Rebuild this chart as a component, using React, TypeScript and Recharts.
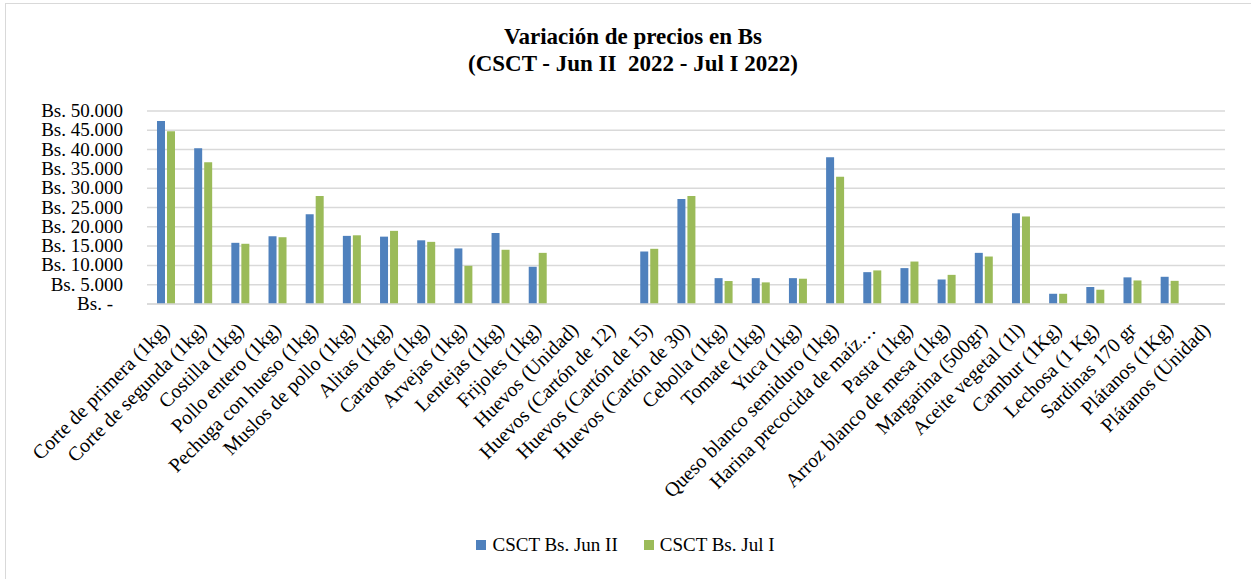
import React from "react";
import { BarChart, Bar, XAxis, YAxis, CartesianGrid, Legend } from "recharts";

const categories = [
  "Corte de primera (1kg)",
  "Corte de segunda (1kg)",
  "Costilla (1kg)",
  "Pollo entero (1kg)",
  "Pechuga con hueso (1kg)",
  "Muslos de pollo (1kg)",
  "Alitas (1kg)",
  "Caraotas (1kg)",
  "Arvejas (1kg)",
  "Lentejas (1kg)",
  "Frijoles (1kg)",
  "Huevos (Unidad)",
  "Huevos (Cartón de 12)",
  "Huevos (Cartón de 15)",
  "Huevos (Cartón de 30)",
  "Cebolla (1kg)",
  "Tomate (1kg)",
  "Yuca (1kg)",
  "Queso blanco semiduro (1kg)",
  "Harina precocida de maíz…",
  "Pasta (1kg)",
  "Arroz blanco de mesa (1kg)",
  "Margarina (500gr)",
  "Aceite vegetal (1l)",
  "Cambur (1Kg)",
  "Lechosa (1 Kg)",
  "Sardinas 170 gr",
  "Plátanos (1Kg)",
  "Plátanos (Unidad)",
];

const junII = [
  47400, 40350, 15850, 17550, 23250, 17650, 17450, 16500, 14400, 18400, 9650,
  null, null, 13600, 27200, 6700, 6700, 6700, 38050, 8250, 9300, 6350, 13250,
  23500, 2650, 4400, 6900, 7050, null,
];

const julI = [
  44750, 36750, 15600, 17300, 28000, 17800, 18950, 16100, 9900, 14050, 13250,
  null, null, 14300, 28000, 5950, 5600, 6550, 32950, 8700, 11000, 7550, 12300,
  22650, 2650, 3700, 6100, 6000, null,
];

const yTicks = [0, 5000, 10000, 15000, 20000, 25000, 30000, 35000, 40000, 45000, 50000];

const data = categories.map((name, i) => ({ name, jun: junII[i], jul: julI[i] }));

const FONT = "'Liberation Serif', 'Times New Roman', serif";
const BLUE = "#4F81BD";
const GREEN = "#9BBB59";
const GRID = "#D9D9D9";

function fmtBs(v: number) {
  if (v === 0) return "Bs. -";
  return "Bs. " + String(v).replace(/\B(?=(\d{3})+(?!\d))/g, ".");
}

function YTick({ x, y, payload }: any) {
  const v = payload.value;
  return (
    <text x={v === 0 ? x - 10 : x} y={y} dy={6} textAnchor="end" fontFamily={FONT} fontSize={19} fill="#000">
      {fmtBs(v)}
    </text>
  );
}

function XTick({ x, y, payload }: any) {
  const ax = x + 5;
  const ay = y + 19;
  return (
    <text
      x={ax}
      y={ay}
      textAnchor="end"
      transform={`rotate(-45 ${ax} ${ay})`}
      fontFamily={FONT}
      fontSize={20}
      fill="#000"
    >
      {payload.value}
    </text>
  );
}

function LegendBox() {
  const items = [
    { label: "CSCT Bs. Jun II", color: BLUE },
    { label: "CSCT Bs. Jul I", color: GREEN },
  ];
  return (
    <div style={{ height: 50, display: "flex", alignItems: "center", justifyContent: "center", paddingLeft: 0, fontFamily: FONT, fontSize: 19, color: "#000" }}>
      {items.map((it) => (
        <div key={it.label} style={{ display: "flex", alignItems: "center", margin: "0 13px" }}>
          <span style={{ display: "inline-block", width: 10, height: 10, background: it.color, marginRight: 6 }} />
          <span>{it.label}</span>
        </div>
      ))}
    </div>
  );
}

export default function App() {
  return (
    <div style={{ position: "absolute", left: 0, top: 0, width: 1251, height: 579, background: "#fff", overflow: "hidden" }}>
      <div style={{ position: "absolute", left: 5, top: 3, width: 1300, height: 620, border: `1px solid ${GRID}` }} />
      <div
        style={{
          position: "absolute",
          left: 0,
          top: 23,
          width: 1266,
          textAlign: "center",
          fontFamily: FONT,
          fontWeight: "bold",
          fontSize: 23,
          lineHeight: "27px",
          color: "#000",
        }}
      >
        <div>Variación de precios en Bs</div>
        <div>(CSCT - Jun II&nbsp; 2022 - Jul I 2022)</div>
      </div>
      <div style={{ position: "absolute", left: 0, top: 0 }}>
        <BarChart
          width={1251}
          height={579}
          data={data}
          margin={{ top: 111, right: 26, left: 0, bottom: 20 }}
          barSize={8}
          barGap={2}
        >
          <CartesianGrid vertical={false} stroke={GRID} strokeWidth={1.5} />
          <XAxis
            dataKey="name"
            interval={0}
            height={205}
            tick={<XTick />}
            tickLine={false}
            axisLine={{ stroke: GRID, strokeWidth: 1.5 }}
          />
          <YAxis
            width={147}
            domain={[0, 50000]}
            ticks={yTicks}
            interval={0}
            tick={<YTick />}
            tickLine={false}
            axisLine={false}
            tickSize={0}
            tickMargin={24}
          />
          <Legend
            verticalAlign="bottom"
            content={<LegendBox />}
            wrapperStyle={{ left: 0, width: 1251, bottom: 9 }}
          />
          <Bar dataKey="jun" name="CSCT Bs. Jun II" fill={BLUE} isAnimationActive={false} />
          <Bar dataKey="jul" name="CSCT Bs. Jul I" fill={GREEN} isAnimationActive={false} />
        </BarChart>
      </div>
    </div>
  );
}
